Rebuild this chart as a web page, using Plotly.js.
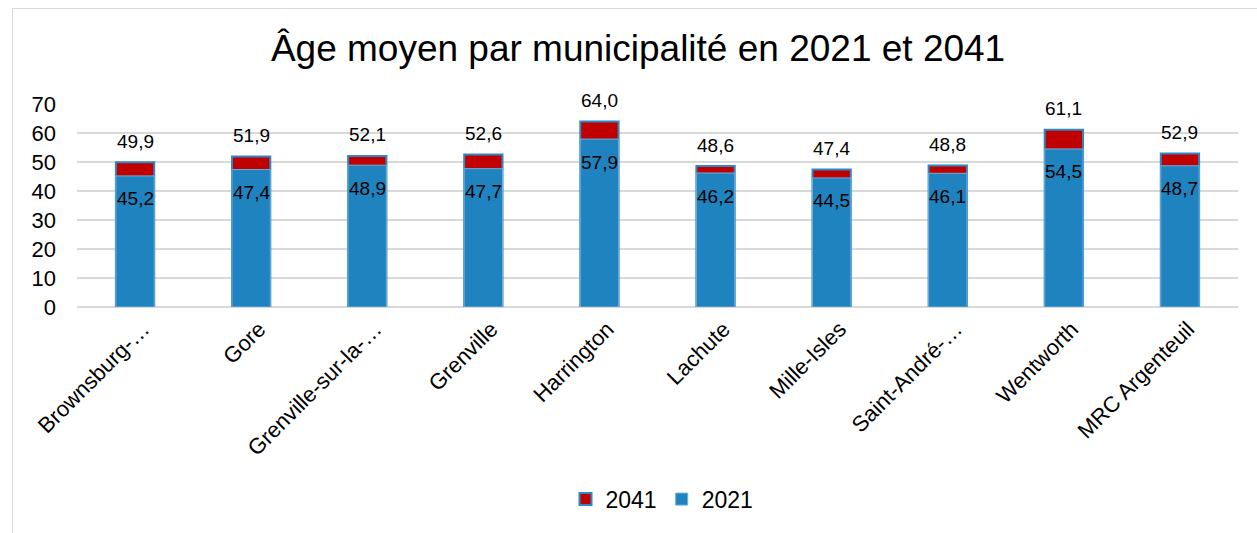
<!DOCTYPE html>
<html>
<head>
<meta charset="utf-8">
<script src="https://cdn.plot.ly/plotly-3.0.1.min.js"></script>
<style>
html,body{margin:0;padding:0;background:#fff;}
#wrap{position:relative;width:1257px;height:533px;overflow:hidden;}
#chart{width:1257px;height:533px;}
#frame{position:absolute;left:12px;top:8px;width:1300px;height:600px;border-left:1.5px solid #D9D9D9;border-top:1.5px solid #D9D9D9;pointer-events:none;}
</style>
</head>
<body>
<div id="wrap">
<div id="chart"></div>
<div id="frame"></div>
</div>
<script>
const categories = ["Brownsburg-…","Gore","Grenville-sur-la-…","Grenville","Harrington","Lachute","Mille-Isles","Saint-André-…","Wentworth","MRC Argenteuil"];
const age2021 = [45.2, 47.4, 48.9, 47.7, 57.9, 46.2, 44.5, 46.1, 54.5, 48.7];
const age2041 = [49.9, 51.9, 52.1, 52.6, 64.0, 48.6, 47.4, 48.8, 61.1, 52.9];
const yTicks = [0,10,20,30,40,50,60,70];
const seriesNames = ["2041","2021"];
const titleText = "Âge moyen par municipalité en 2021 et 2041";

const fmt = v => v.toFixed(1).replace('.', ',');
const FONT = 'Liberation Sans, Arial, sans-serif';

const traces = [
  {
    type:'bar', name:seriesNames[0], x:categories, y:age2041, width:0.33,
    marker:{color:'#C00000', line:{color:'#2F88C4', width:2}},
    hoverinfo:'none'
  },
  {
    type:'bar', name:seriesNames[1], x:categories, y:age2021, width:0.33,
    marker:{color:'#1F83BF', line:{color:'#6FAEDC', width:1}},
    hoverinfo:'none'
  }
];

const annotations = [];
categories.forEach((c,i)=>{
  annotations.push({x:c, y:age2041[i], xref:'x', yref:'y', text:fmt(age2041[i]), showarrow:false, yshift:21, yanchor:'middle', font:{family:FONT, size:19, color:'#000'}});
  annotations.push({x:c, y:age2021[i], xref:'x', yref:'y', text:fmt(age2021[i]), showarrow:false, yshift:-23, yanchor:'middle', font:{family:FONT, size:19, color:'#000'}});
});

const layout = {
  width:1257, height:533,
  paper_bgcolor:'#fff', plot_bgcolor:'#fff',
  margin:{l:77, r:19, t:104, b:223},
  barmode:'overlay',
  title:{text:titleText, font:{family:FONT, size:37, color:'#000'}, xref:'container', x:0.5076, xanchor:'center', yref:'container', y:1-48/533, yanchor:'middle'},
  xaxis:{type:'category', tickangle:-45, tickfont:{family:FONT, size:22, color:'#000'}, showgrid:false, showline:false, zeroline:false, ticks:'', ticklabelstandoff:4, ticklabelshift:8, fixedrange:true},
  yaxis:{range:[0,70], tickvals:yTicks, ticktext:yTicks.map(String), tickfont:{family:FONT, size:22, color:'#000'}, showgrid:true, gridcolor:'#D9D9D9', gridwidth:1.5, zeroline:true, zerolinecolor:'#D9D9D9', zerolinewidth:1.5, showline:false, ticks:'', ticklabelstandoff:20, fixedrange:true},
  showlegend:true,
  legend:{orientation:'h', x:(662-77)/1161, xanchor:'center', y:(310-505)/206, yanchor:'middle', font:{family:FONT, size:23, color:'#000'}, itemwidth:30, traceorder:'normal'},
  annotations:annotations
};

Plotly.newPlot('chart', traces, layout, {displayModeBar:false, staticPlot:true});
</script>
</body>
</html>
